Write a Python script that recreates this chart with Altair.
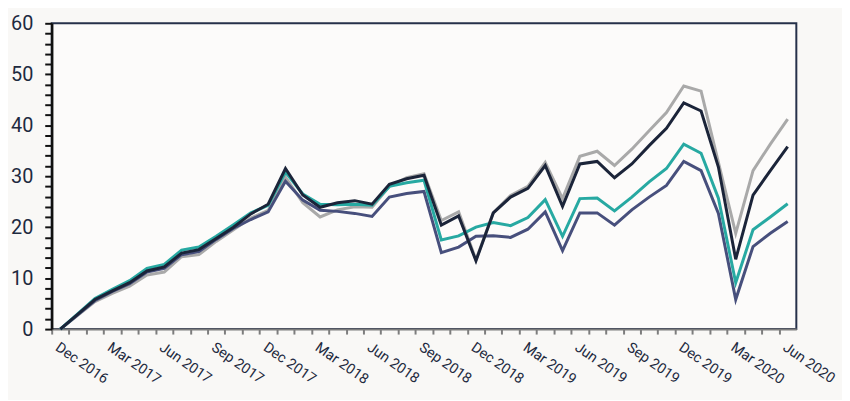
import altair as alt
import pandas as pd

months = list(pd.date_range("2016-12-01", periods=43, freq="MS").strftime("%b %Y"))

series_names = ["Gray", "Slate", "Teal", "Navy"]
series_colors = ["#a9a9a9", "#474f7c", "#27a9a2", "#1b2439"]

gray = [0, 2.7, 5.4, 7.0, 8.4, 10.6, 11.2, 14.2, 14.6, 17.2, 19.5, 21.8, 23.3, 29.8, 24.8,
        22.0, 23.4, 24.0, 23.9, 28.0, 29.7, 30.5, 21.3, 23.0, 13.6, 22.8, 26.2, 28.0, 32.7,
        25.6, 33.9, 34.9, 32.1, 35.3, 38.9, 42.5, 47.7, 46.7, 32.7, 18.8, 31.1, 36.3, 41.2]
slate = [0, 2.8, 5.6, 7.4, 8.9, 11.2, 11.9, 14.6, 15.2, 17.6, 19.8, 21.5, 23.0, 29.0, 25.3,
         23.3, 23.1, 22.7, 22.1, 25.9, 26.6, 27.0, 15.0, 16.1, 18.2, 18.3, 18.0, 19.6, 23.0,
         15.4, 22.8, 22.8, 20.4, 23.4, 25.9, 28.2, 32.9, 31.1, 22.7, 5.8, 16.2, 18.8, 21.1]
teal = [0, 3.0, 6.0, 7.8, 9.5, 11.9, 12.7, 15.5, 16.1, 18.2, 20.5, 22.8, 24.3, 30.8, 26.5,
        24.5, 24.4, 24.5, 24.3, 28.0, 28.7, 29.2, 17.5, 18.3, 20.0, 20.9, 20.3, 21.9, 25.4,
        18.2, 25.6, 25.7, 23.2, 25.9, 28.9, 31.5, 36.3, 34.5, 25.7, 9.1, 19.5, 22.0, 24.6]
navy = [0, 2.9, 5.8, 7.5, 9.1, 11.4, 12.2, 14.9, 15.6, 17.8, 20.0, 22.6, 24.5, 31.5, 26.3,
        23.9, 24.8, 25.2, 24.5, 28.4, 29.5, 30.2, 20.4, 22.2, 13.4, 22.8, 25.9, 27.6, 32.1,
        24.1, 32.4, 32.9, 29.7, 32.4, 36.0, 39.4, 44.4, 42.8, 31.8, 13.7, 26.3, 31.1, 35.8]

rows = []
for name, vals in zip(series_names, [gray, slate, teal, navy]):
    for i, (m, v) in enumerate(zip(months, vals)):
        rows.append({"month": m, "idx": i, "value": v, "series": name})
df = pd.DataFrame(rows)

font = "Roboto"
text_color = "#1e2a40"
W, H = 750, 308
step = W / len(months)

x_enc = alt.X(
    "month:O",
    sort=months,
    scale=alt.Scale(type="point", padding=0.5),
    axis=alt.Axis(
        title=None,
        orient="bottom",
        labelAngle=35,
        labelAlign="left",
        labelBaseline="top",
        labelOverlap=False,
        labelExpr="(slice(datum.value,0,3) == 'Dec' || slice(datum.value,0,3) == 'Mar' || slice(datum.value,0,3) == 'Jun' || slice(datum.value,0,3) == 'Sep') ? datum.value : ''",
        labelFont=font,
        labelFontSize=14.5,
        labelColor=text_color,
        labelPadding=6,
        labelOffset=step / 2,
        domainColor="#7d7d7d",
        domainWidth=2,
        tickColor="#7d7d7d",
        tickWidth=2,
        tickSize=5,
        tickOffset=-step / 2,
        grid=False,
    ),
)
y_enc = alt.Y(
    "value:Q",
    scale=alt.Scale(domain=[0, 60], nice=False, zero=True),
    axis=alt.Axis(
        title=None,
        values=list(range(0, 61, 2)),
        labelExpr="datum.value % 10 == 0 ? datum.label : ''",
        labelFont=font,
        labelFontSize=20,
        labelColor=text_color,
        labelPadding=12,
        domainColor="#111111",
        domainWidth=2.5,
        tickColor="#111111",
        tickWidth=2,
        tickSize=7,
        grid=False,
    ),
)

chart = (
    alt.Chart(df)
    .mark_line(strokeWidth=3, strokeJoin="miter")
    .encode(
        x=x_enc,
        y=y_enc,
        color=alt.Color(
            "series:N",
            scale=alt.Scale(domain=series_names, range=series_colors),
            legend=None,
        ),
    )
    .properties(
        width=W,
        height=H,
        padding={"left": 44, "top": 14, "right": 46, "bottom": 70},
        autosize=alt.AutoSizeParams(type="none"),
        background="#f9f8f6",
    )
    .configure_view(stroke="#26314a", strokeWidth=2, fill="#fcfbfa")
)

chart.save("out.html", embed_options={"renderer": "svg", "actions": False})
